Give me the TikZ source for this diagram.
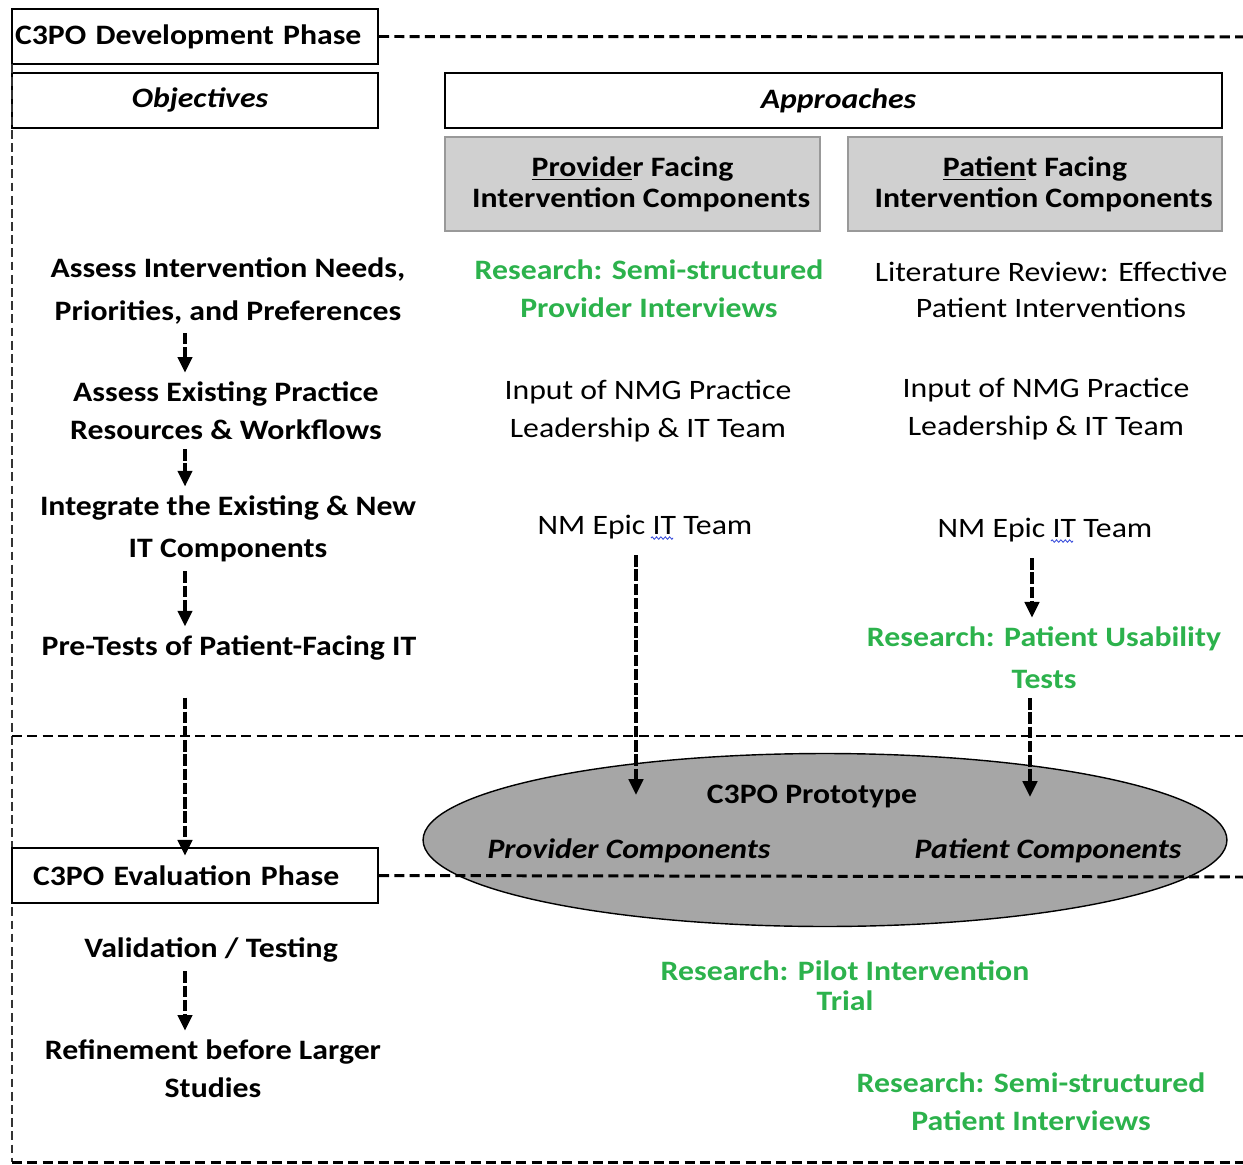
\documentclass[tikz,border=0pt]{standalone}
\usepackage{fontspec}
\setmainfont{Carlito}[FakeStretch=1.13]
\usetikzlibrary{arrows.meta,decorations.pathmorphing,shapes.geometric,calc}
\definecolor{resgreen}{RGB}{44,178,76}
\definecolor{hdrgray}{RGB}{208,208,208}
\definecolor{protogray}{RGB}{166,166,166}
\definecolor{spellblue}{RGB}{60,80,220}

\begin{document}
\begin{tikzpicture}[x=0.02cm,y=-0.02cm,
  plain/.style={font=\fontsize{16}{#1}\selectfont, align=center, inner sep=1pt},
  plain/.default=21.6pt,
  bold/.style={font=\fontsize{16}{#1}\selectfont\bfseries, align=center, inner sep=1pt},
  bold/.default=24pt,
  green/.style={bold=#1, text=resgreen},
  green/.default=21.6pt,
  bolditalic/.style={font=\fontsize{16}{20}\selectfont\bfseries\itshape, inner sep=1pt},
  phasebox/.style={draw=black, line width=1.2pt, minimum height=1.1cm, text width=#1,
    align=left, font=\fontsize{16}{20}\selectfont\bfseries},
  titlebox/.style={draw=black, line width=1.2pt, minimum height=1.1cm, minimum width=#1,
    font=\fontsize{16}{20}\selectfont\bfseries\itshape},
  hdrbox/.style={draw=black!40, fill=hdrgray, line width=0.8pt, minimum height=1.88cm,
    minimum width=#1, align=center, font=\fontsize{16}{17.6}\selectfont\bfseries},
  sep/.style={line width=1.7pt, dash pattern=on 5.7pt off 3pt},
  border/.style={line width=1pt, black!80, dash pattern=on 5pt off 2.5pt},
  arr/.style={line width=2.6pt, dash pattern=on 6.5pt off 1.6pt,
    -{Triangle[length=9pt,width=8pt]}},
]
\useasboundingbox (0,0) rectangle (1243,1165);

% ---------- frames of the two phases ----------
\node[phasebox=7.2cm, inner xsep=0.06cm] (dev) at (195,36.5) {\raisebox{-1.7pt}{C3PO Development Phase}};
\node[titlebox=7.32cm] (obj) at (195,100.5) {\hspace{0.2cm}Objectives};
\node[titlebox=15.54cm] (appr) at (833.5,100.5) {\hspace{0.2cm}Approaches};
\begin{scope}
  \clip (445,137) rectangle (1222,231);
  \node[hdrbox=7.5cm] (provhdr) at (632.5,184)
    {\underline{Provide}r Facing\\\hspace*{0.35cm}Intervention Components};
  \node[hdrbox=7.48cm] (pathdr) at (1035,184)
    {\underline{Patien}t Facing\\\hspace*{0.35cm}Intervention Components};
\end{scope}
\draw[draw=black!40, line width=0.8pt] (provhdr.north west) rectangle (provhdr.south east);
\draw[draw=black!40, line width=0.8pt] (pathdr.north west) rectangle (pathdr.south east);

\draw[sep] (dev.east) -- (1243,37);
\coordinate (topleft) at (12,64);
\coordinate (botleft) at (12,1162);
\coordinate (botright) at (1243,1162);
\draw[border] (topleft) -- (botleft);
\draw[sep] (botleft) -- (botright);
\draw[sep] (12,736) -- (1243,736);

% ---------- prototype ----------
\node[ellipse, draw=black, line width=0.8pt, fill=protogray,
  minimum width=16.08cm, minimum height=3.46cm] (proto) at (825,840) {};
\node[bold] (protot) at (812,796) {C3PO Prototype};
\node[bolditalic] (provc) at (629,851) {Provider Components};
\node[bolditalic] (patc) at (1048,851) {Patient Components};

\node[phasebox=6.48cm, inner xsep=0.42cm, fill=white] (eval) at (195,875.5) {C3PO Evaluation Phase};
\draw[sep] (eval.east) -- (1243,877);

% ---------- objectives ----------
\node[bold=24pt] (needs) at (228,291) {Assess Intervention Needs,\\Priorities, and Preferences};
\node[bold=21.6pt] (exist) at (226,411) {Assess Existing Practice\\Resources \& Workflows};
\node[bold=24pt] (integ) at (228,529) {Integrate the Existing \& New\\IT Components};
\node[bold] (pretest) at (229,648) {Pre-Tests of Patient-Facing IT};
\node[bold] (valid) at (211,950) {Validation / Testing};
\node[bold=21.6pt] (refine) at (213,1069) {Refinement before Larger\\Studies};

% ---------- provider facing approaches ----------
\node[green=21.6pt] (rsp) at (649,289) {Research: Semi-structured\\Provider Interviews};
\node[plain=21.6pt] (inpL) at (648,411) {Input of NMG Practice\\Leadership \& IT Team};
\node[plain] (epicL) at (645,527) {NM Epic IT Team};

% ---------- patient facing approaches ----------
\node[plain=20.5pt] (lit) at (1051,290) {Literature Review: Effective\\Patient Interventions};
\node[plain=21.6pt] (inpR) at (1046,409) {Input of NMG Practice\\Leadership \& IT Team};
\node[plain] (epicR) at (1045,530) {NM Epic IT Team};
\node[green=24pt] (usab) at (1044,658) {Research: Patient Usability\\Tests};

% ---------- evaluation research ----------
\node[green=17pt] (pilot) at (845,986) {Research: Pilot Intervention\\Trial};
\node[green=21.6pt] (semip) at (1031,1102) {Research: Semi-structured\\Patient Interviews};

% spell-check marks under "IT"
\draw[spellblue, line width=0.5pt, decorate,
  decoration={zigzag, segment length=2.5pt, amplitude=0.7pt}]
  ($(epicL.south)+(6,-3)$) -- ++(22,0);
\draw[spellblue, line width=0.5pt, decorate,
  decoration={zigzag, segment length=2.5pt, amplitude=0.7pt}]
  ($(epicR.south)+(6,-3)$) -- ++(22,0);

% ---------- flow arrows ----------
\coordinate (lx) at (185,0);
\coordinate (mx) at (636,0);
\coordinate (rx) at (1032,0);
\coordinate (rx2) at (1030,0);
\draw[arr, shorten <=4pt, shorten >=4pt] (needs.south -| lx) -- (exist.north -| lx);
\draw[arr, shorten <=4pt, shorten >=4pt] (exist.south -| lx) -- (integ.north -| lx);
\draw[arr, shorten <=4pt, shorten >=4pt] (integ.south -| lx) -- (pretest.north -| lx);
\draw[arr, shorten <=20pt, shorten >=-5pt] (pretest.south -| lx) -- (eval.north -| lx);
\draw[arr, shorten <=4pt, shorten >=4pt] (valid.south -| lx) -- (refine.north -| lx);

\coordinate (provin) at (636,795);
\coordinate (patin) at (1030,797);
\draw[arr, shorten <=8pt] (epicL.south -| mx) -- (provin);
\draw[arr, shorten <=8pt, shorten >=4pt] (epicR.south -| rx) -- (usab.north -| rx);
\draw[arr, shorten <=4pt] (usab.south -| rx2) -- (patin);
\end{tikzpicture}
\end{document}
